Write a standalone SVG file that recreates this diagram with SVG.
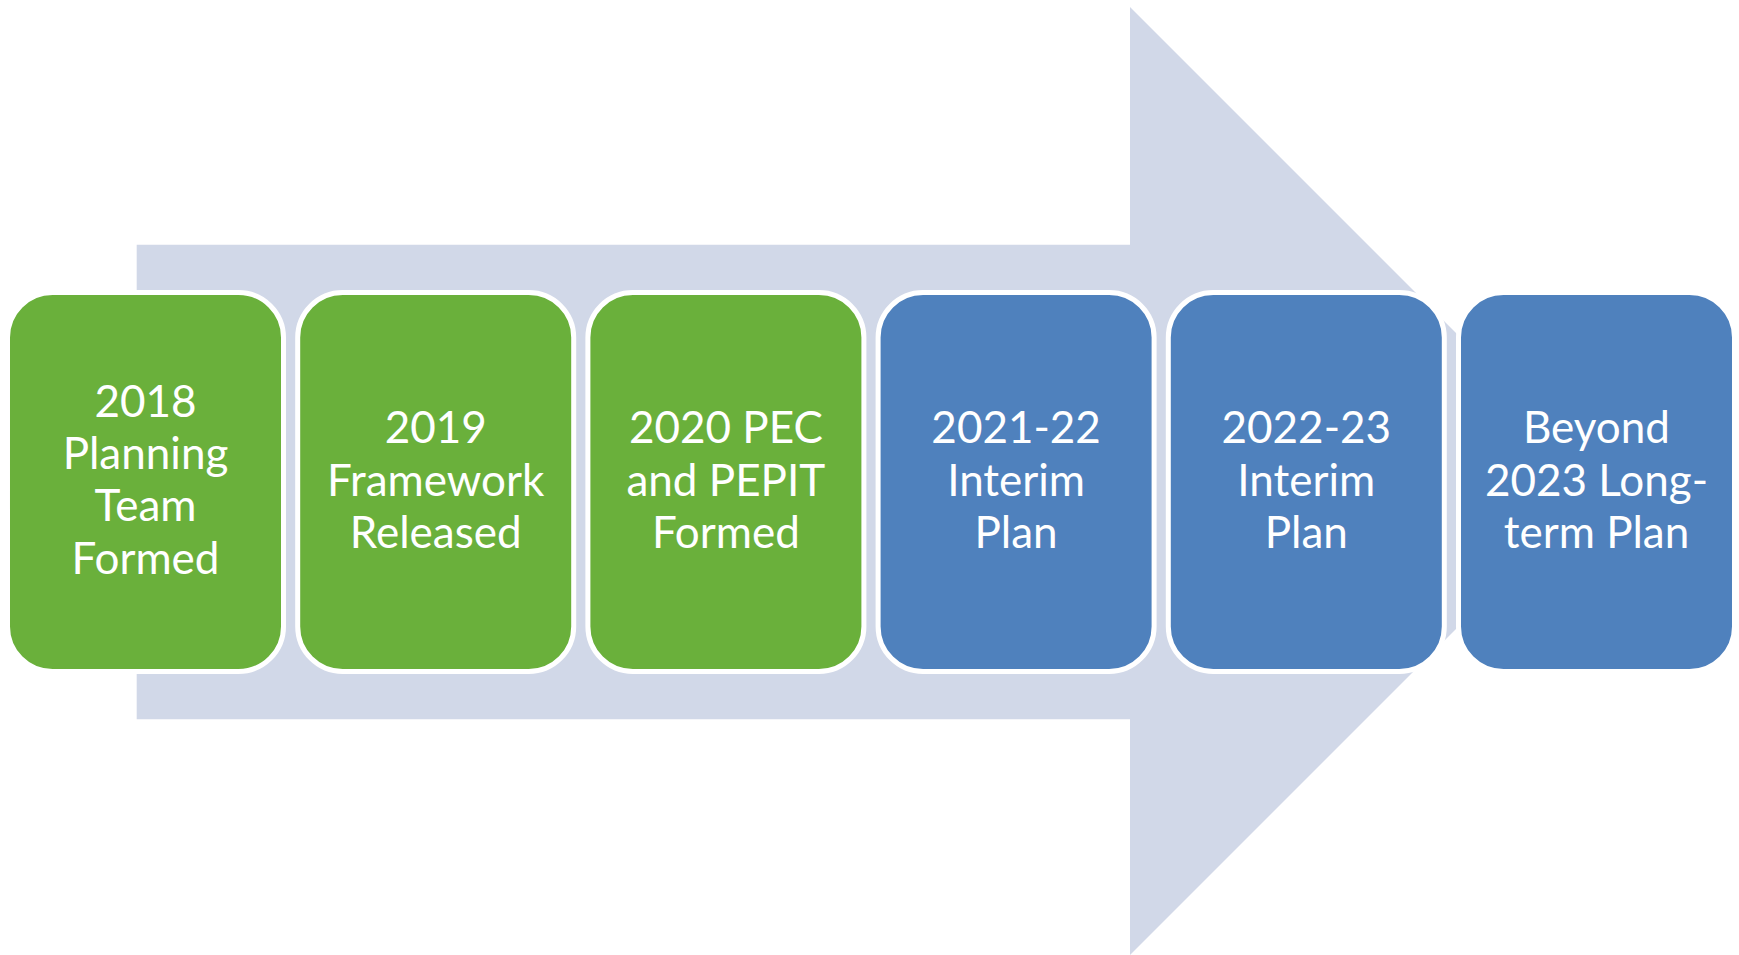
<svg xmlns="http://www.w3.org/2000/svg" width="1739" height="955" viewBox="0 0 1739 955">
<style>
.box{stroke:#FFFFFF;stroke-width:5}
.g{fill:#6AB03B}
.b{fill:#4F81BD}
.t{font-family:Lato,"Liberation Sans",sans-serif;font-size:44px;fill:#FFFFFF;text-anchor:middle}
</style>
<rect width="1739" height="955" fill="#FFFFFF"/>
<g id="connectors">
<polygon id="arrow" points="136.7,244.7 1130,244.7 1130,7 1604,481 1130,955 1130,719.3 136.7,719.3" fill="#D1D8E8"/>
</g>
<g id="n1"><rect class="box g" x="7.5" y="292.5" width="276" height="379" rx="45"/>
<text class="t"><tspan x="145.5" y="417">2018</tspan><tspan x="145.5" y="469">Planning</tspan><tspan x="145.5" y="521">Team</tspan><tspan x="145.5" y="574">Formed</tspan></text></g>
<g id="n2"><rect class="box g" x="297.7" y="292.5" width="276" height="379" rx="45"/>
<text class="t"><tspan x="435.7" y="443">2019</tspan><tspan x="435.7" y="496">Framework</tspan><tspan x="435.7" y="548">Released</tspan></text></g>
<g id="n3"><rect class="box g" x="587.9" y="292.5" width="276" height="379" rx="45"/>
<text class="t"><tspan x="725.9" y="443">2020 PEC</tspan><tspan x="725.9" y="496">and PEPIT</tspan><tspan x="725.9" y="548">Formed</tspan></text></g>
<g id="n4"><rect class="box b" x="878.1" y="292.5" width="276" height="379" rx="45"/>
<text class="t"><tspan x="1016.1" y="443">2021-22</tspan><tspan x="1016.1" y="496">Interim</tspan><tspan x="1016.1" y="548">Plan</tspan></text></g>
<g id="n5"><rect class="box b" x="1168.3" y="292.5" width="276" height="379" rx="45"/>
<text class="t"><tspan x="1306.3" y="443">2022-23</tspan><tspan x="1306.3" y="496">Interim</tspan><tspan x="1306.3" y="548">Plan</tspan></text></g>
<g id="n6"><rect class="box b" x="1458.5" y="292.5" width="276" height="379" rx="45"/>
<text class="t"><tspan x="1596.5" y="443">Beyond</tspan><tspan x="1596.5" y="496">2023 Long-</tspan><tspan x="1596.5" y="548">term Plan</tspan></text></g>
</svg>
